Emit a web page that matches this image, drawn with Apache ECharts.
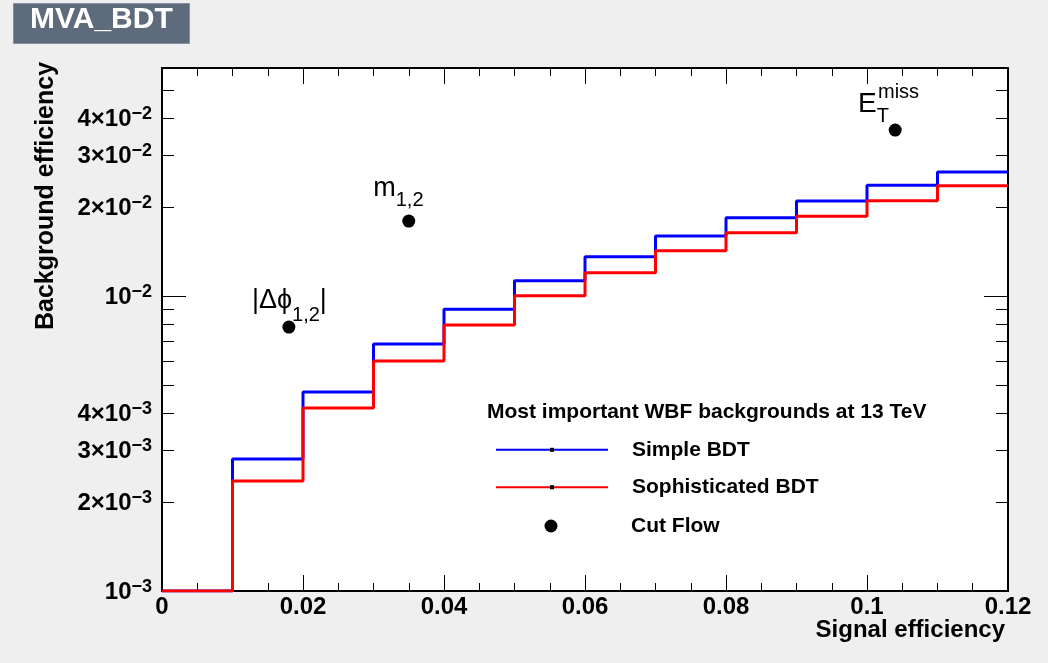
<!DOCTYPE html>
<html>
<head>
<meta charset="utf-8">
<script src="https://cdn.jsdelivr.net/npm/echarts@6/dist/echarts.min.js"></script>
<style>
html,body{margin:0;padding:0;background:#efefef;}
#chart{width:1048px;height:663px;}
</style>
</head>
<body>
<div id="chart"></div>
<script>
// ---- data ----
const binEdges = [0, 0.01, 0.02, 0.03, 0.04, 0.05, 0.06, 0.07, 0.08, 0.09, 0.10, 0.11, 0.12];
const simpleBDT = [0.001, 0.00280, 0.00473, 0.00688, 0.00902, 0.01127, 0.01359, 0.01597, 0.01842, 0.02099, 0.02373, 0.02633];
const sophisticatedBDT = [0.001, 0.00236, 0.00417, 0.00602, 0.00797, 0.01002, 0.01200, 0.01424, 0.01639, 0.01863, 0.02104, 0.02365];
const cutFlowX = [0.018, 0.035, 0.104];
const cutFlowY = [0.00785, 0.01795, 0.03653];
const cutFlowLabels = ['{b|\u007C\u0394\u03D5}{s|1,2}{b|\u007C}', '{b|m}{s|1,2}', '{sp| }{u|miss}\n{E|E}{t|T}'];
const yMin = 0.001, yMax = 0.0593;
const yMajorTicks = [0.001, 0.01];
const yMinorTicks = [0.002, 0.003, 0.004, 0.005, 0.006, 0.007, 0.008, 0.009, 0.02, 0.03, 0.04, 0.05];
const yLabelTicks = [0.001, 0.002, 0.003, 0.004, 0.01, 0.02, 0.03, 0.04];
const xMin = 0, xMax = 0.12, xInterval = 0.02;
const seriesNames = ['Simple BDT', 'Sophisticated BDT', 'Cut Flow'];
const legendHeader = 'Most important WBF backgrounds at 13 TeV';
const xTitle = 'Signal efficiency';
const yTitle = 'Background efficiency';

// ---- styles ----
const FONT = '"Liberation Sans", Arial, Helvetica, sans-serif';
const labelOffsets = [[-30.5, -33.4], [-29, -39.6], [-30.7, -40.8]];
const txt = (size, extra) => Object.assign({fontSize: size, fontFamily: FONT, color: '#000'}, extra || {});
const richSets = [
  { b: txt(27, {verticalAlign: 'top'}), s: txt(20, {verticalAlign: 'top', padding: [18, 0, 0, 0]}) },
  { b: txt(27, {verticalAlign: 'top'}), s: txt(20, {verticalAlign: 'top', padding: [15, 0, 0, 0]}) },
  { sp: txt(20, {width: 20, lineHeight: 1, verticalAlign: 'top'}),
    u: txt(20, {lineHeight: 1, verticalAlign: 'top'}),
    E: txt(28, {verticalAlign: 'top', padding: [7, 0, 0, 0]}),
    t: txt(20, {verticalAlign: 'top', padding: [23, 0, 0, 0]}) }
];

const lg = v => Math.log10(v);
const stepData = vals => binEdges.map((e, i) => [e, vals[Math.min(i, vals.length - 1)]]);

function yLabelFmt(t) {
  const e = Math.floor(t + 1e-9);
  const m = Math.round(Math.pow(10, t - e));
  const ex = '\u2212' + (-e);
  return m === 1 ? '{m|10}{e|' + ex + '}' : '{m|' + m + '\u00D710}{e|' + ex + '}';
}

const axisLineStyle = {color: '#000', width: 2};
const tickLine = {color: '#000', width: 1};
const yRich = {
  m: {fontSize: 24, fontWeight: 'bold', verticalAlign: 'top', padding: [2, 0, 0, 0], fontFamily: FONT, color: '#000'},
  e: {fontSize: 18, fontWeight: 'bold', verticalAlign: 'top', fontFamily: FONT, color: '#000'}
};

function tickAxis(position, values, len, withLabels, showLine) {
  return {
    type: 'value', position: position, min: lg(yMin), max: lg(yMax), gridIndex: 0,
    axisLine: {show: !!showLine, onZero: false, lineStyle: axisLineStyle},
    axisTick: {show: true, inside: true, length: len, customValues: values.map(lg), lineStyle: tickLine},
    axisLabel: withLabels ? {
      show: true, customValues: yLabelTicks.map(lg), formatter: yLabelFmt, margin: 10, rich: yRich
    } : {show: false},
    splitLine: {show: false}
  };
}

const legendText = {fontSize: 21, fontWeight: 'bold', color: '#000', fontFamily: FONT};

const chart = echarts.init(document.getElementById('chart'), null, {renderer: 'canvas'});
chart.setOption({
  animation: false,
  backgroundColor: '#efefef',
  title: [{
    text: 'MVA_BDT', left: 13, top: 4,
    backgroundColor: '#5e6b7d', borderColor: '#8591a3', borderWidth: 1,
    padding: [1, 17, 9, 17],
    textStyle: {color: '#fff', fontSize: 30, fontWeight: 'bold', lineHeight: 29, fontFamily: FONT}
  }, {
    text: legendHeader, left: 487, top: 400, padding: 0,
    textStyle: {color: '#000', fontSize: 21, fontWeight: 'bold', lineHeight: 24, fontFamily: FONT}
  }],
  grid: {left: 162, top: 68, right: 40, bottom: 72, show: true, backgroundColor: '#fff', borderWidth: 0,
    containLabel: false, outerBoundsMode: 'none'},
  xAxis: [{
    type: 'value', position: 'bottom', min: xMin, max: xMax, interval: xInterval,
    axisLine: {show: true, onZero: false, lineStyle: axisLineStyle},
    axisTick: {show: true, inside: true, length: 16, lineStyle: tickLine},
    minorTick: {show: true, splitNumber: 4, length: 8, lineStyle: tickLine},
    axisLabel: {show: true, margin: 4, fontSize: 24, fontWeight: 'bold', color: '#000', fontFamily: FONT,
      formatter: v => String(+v.toFixed(2))},
    splitLine: {show: false}
  }, {
    type: 'value', position: 'top', min: xMin, max: xMax, interval: xInterval,
    axisLine: {show: true, onZero: false, lineStyle: axisLineStyle},
    axisTick: {show: true, inside: true, length: 16, lineStyle: tickLine},
    minorTick: {show: true, splitNumber: 4, length: 8, lineStyle: tickLine},
    axisLabel: {show: false}, splitLine: {show: false}
  }],
  yAxis: [{
    type: 'log', logBase: 10, min: yMin, max: yMax, position: 'left',
    axisLine: {show: true, onZero: false, lineStyle: axisLineStyle},
    axisTick: {show: false}, axisLabel: {show: false}, splitLine: {show: false}, minorTick: {show: false}
  },
    tickAxis('left', yMinorTicks, 12, false, false),
    tickAxis('left', yMajorTicks, 24, true, false),
    tickAxis('right', yMinorTicks, 12, false, true),
    tickAxis('right', yMajorTicks, 24, false, false)
  ],
  legend: [{
    data: [seriesNames[0]], left: 495, top: 439.3, padding: 0, itemWidth: 112, itemHeight: 5,
    itemStyle: {color: '#000', borderWidth: 0},
    textStyle: Object.assign({padding: [0, 0, 0, 19]}, legendText), selectedMode: false
  }, {
    data: [seriesNames[1]], left: 495, top: 476.7, padding: 0, itemWidth: 112, itemHeight: 5,
    itemStyle: {color: '#000', borderWidth: 0},
    textStyle: Object.assign({padding: [0, 0, 0, 19]}, legendText), selectedMode: false
  }, {
    data: [seriesNames[2]], left: 544.5, top: 515.5, padding: 0, itemWidth: 13, itemHeight: 13,
    itemStyle: {color: '#000', opacity: 1},
    textStyle: Object.assign({padding: [0, 0, 0, 68.5]}, legendText), selectedMode: false
  }],
  graphic: [{
    type: 'text', x: 46, y: 196, rotation: Math.PI / 2,
    style: {text: yTitle, font: 'bold 25px ' + FONT, fill: '#000',
      align: 'center', verticalAlign: 'middle', textAlign: 'center', textVerticalAlign: 'middle'}
  }, {
    type: 'text', x: 1005, y: 630,
    style: {text: xTitle, font: 'bold 24px ' + FONT, fill: '#000',
      align: 'right', verticalAlign: 'middle', textAlign: 'right', textVerticalAlign: 'middle'}
  }],
  series: [{
    name: seriesNames[0], type: 'line', step: 'end', xAxisIndex: 0, yAxisIndex: 0,
    data: stepData(simpleBDT), symbol: 'rect', showSymbol: false, z: 3,
    lineStyle: {color: '#0000ff', width: 3}, itemStyle: {color: '#0000ff'}, emphasis: {disabled: true}
  }, {
    name: seriesNames[1], type: 'line', step: 'end', xAxisIndex: 0, yAxisIndex: 0,
    data: stepData(sophisticatedBDT), symbol: 'rect', showSymbol: false, z: 4,
    lineStyle: {color: '#ff0000', width: 3}, itemStyle: {color: '#ff0000'}, emphasis: {disabled: true}
  }, {
    name: seriesNames[2], type: 'scatter', xAxisIndex: 0, yAxisIndex: 0,
    symbol: 'circle', symbolSize: 13, itemStyle: {color: '#000', opacity: 1}, z: 5, emphasis: {disabled: true},
    data: cutFlowX.map((x, i) => ({
      value: [x, cutFlowY[i]],
      label: {show: true, position: labelOffsets[i], align: 'left', verticalAlign: 'top', color: '#000',
        formatter: cutFlowLabels[i], rich: richSets[i]}
    }))
  }]
});
</script>
</body>
</html>
